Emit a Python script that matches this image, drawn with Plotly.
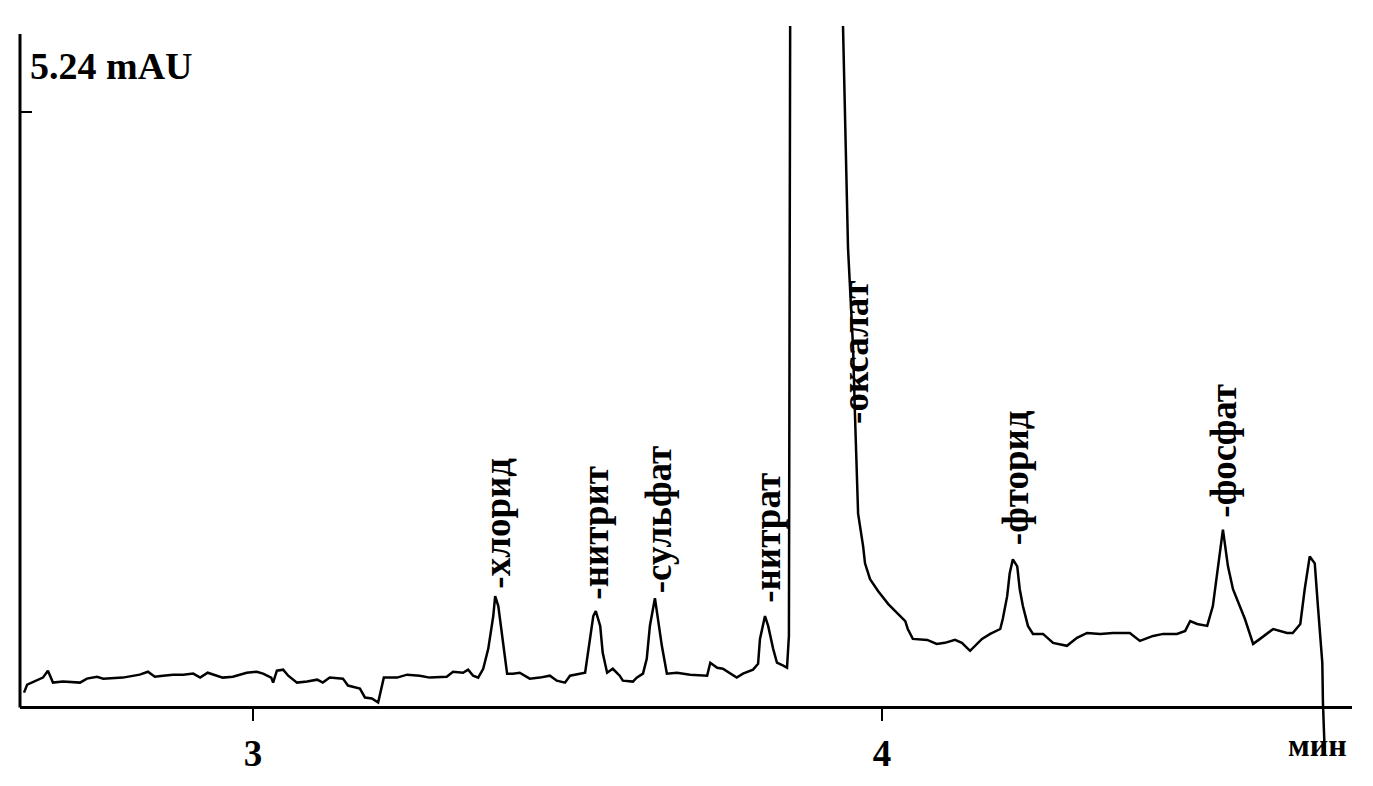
import plotly.graph_objects as go

# retention time, min
time_min = [
    2.636, 2.641, 2.666, 2.674, 2.682, 2.698, 2.725, 2.736, 2.752, 2.762,
    2.793, 2.804, 2.820, 2.833, 2.844, 2.857, 2.873, 2.889, 2.905, 2.916,
    2.928, 2.952, 2.968, 2.990, 3.006, 3.016, 3.029, 3.032, 3.038, 3.048,
    3.056, 3.070, 3.086, 3.102, 3.111, 3.122, 3.143, 3.151, 3.170, 3.178,
    3.189, 3.199, 3.205, 3.208, 3.229, 3.245, 3.265, 3.281, 3.308, 3.318,
    3.334, 3.342, 3.350, 3.358, 3.366, 3.374, 3.382, 3.385, 3.390, 3.396,
    3.404, 3.413, 3.424, 3.440, 3.456, 3.472, 3.483, 3.496, 3.504, 3.528,
    3.533, 3.541, 3.545, 3.552, 3.556, 3.563, 3.572, 3.583, 3.588, 3.604,
    3.610, 3.620, 3.626, 3.631, 3.639, 3.644, 3.650, 3.658, 3.674, 3.695,
    3.722, 3.727, 3.738, 3.747, 3.758, 3.769, 3.779, 3.795, 3.803, 3.806,
    3.814, 3.819, 3.827, 3.833, 3.843, 3.849, 3.852, 3.854, 3.895, 3.938,
    3.946, 3.954, 3.957, 3.962, 3.970, 3.973, 3.981, 3.994, 4.010, 4.024,
    4.037, 4.041, 4.049, 4.072, 4.087, 4.100, 4.116, 4.127, 4.140, 4.159,
    4.172, 4.188, 4.192, 4.199, 4.203, 4.208, 4.215, 4.219, 4.224, 4.232,
    4.240, 4.256, 4.272, 4.294, 4.310, 4.326, 4.347, 4.367, 4.394, 4.410,
    4.431, 4.447, 4.469, 4.482, 4.490, 4.501, 4.517, 4.526, 4.534, 4.542,
    4.550, 4.558, 4.577, 4.590, 4.601, 4.622, 4.644, 4.653, 4.665, 4.672,
    4.680, 4.688, 4.693, 4.700, 4.701, 4.704,
]

# detector signal, mAU (oxalate apex is off scale)
signal_mau = [
    0.131, 0.201, 0.263, 0.324, 0.219, 0.228, 0.219, 0.254, 0.271, 0.254,
    0.263, 0.271, 0.289, 0.315, 0.271, 0.280, 0.289, 0.289, 0.298, 0.263,
    0.306, 0.263, 0.271, 0.306, 0.315, 0.298, 0.263, 0.219, 0.324, 0.333,
    0.280, 0.219, 0.228, 0.245, 0.219, 0.263, 0.254, 0.193, 0.166, 0.088,
    0.079, 0.044, 0.193, 0.263, 0.263, 0.289, 0.280, 0.263, 0.271, 0.315,
    0.306, 0.333, 0.280, 0.263, 0.341, 0.516, 0.805, 0.980, 0.893, 0.630,
    0.298, 0.298, 0.306, 0.254, 0.263, 0.280, 0.236, 0.219, 0.280, 0.306,
    0.516, 0.805, 0.849, 0.718, 0.481, 0.306, 0.341, 0.280, 0.236, 0.228,
    0.263, 0.298, 0.429, 0.718, 0.963, 0.779, 0.543, 0.298, 0.306, 0.289,
    0.280, 0.394, 0.350, 0.341, 0.298, 0.263, 0.298, 0.333, 0.385, 0.604,
    0.805, 0.718, 0.516, 0.394, 0.368, 0.350, 0.630, 6.000, 60.00, 6.000,
    4.043, 3.168, 2.581, 1.706, 1.418, 1.269, 1.129, 1.024, 0.910, 0.831,
    0.761, 0.691, 0.604, 0.595, 0.560, 0.569, 0.595, 0.569, 0.499, 0.604,
    0.648, 0.691, 0.779, 0.980, 1.181, 1.304, 1.243, 1.041, 0.893, 0.718,
    0.648, 0.648, 0.569, 0.543, 0.613, 0.656, 0.648, 0.656, 0.656, 0.586,
    0.630, 0.648, 0.648, 0.674, 0.761, 0.735, 0.718, 0.893, 1.243, 1.566,
    1.243, 1.041, 0.779, 0.560, 0.604, 0.691, 0.656, 0.656, 0.735, 1.041,
    1.330, 1.269, 0.893, 0.394, 0.044, -0.420,
]

# peak labels
peak_names = ["-хлорид", "-нитрит", "-сульфат", "-нитрат", "-оксалат", "-фторид", "-фосфат"]
label_time = [3.389, 3.545, 3.645, 3.818, 3.958, 4.212, 4.543]
label_base = [1.03, 0.93, 0.99, 0.90, 2.48, 1.41, 1.65]

x_ticks = [3, 4]
x_tick_text = ["3", "4"]
scale_mark = 5.24

X_RANGE = [2.6296, 4.7472]
Y_RANGE = [-0.48, 6.0]
SERIF = "Liberation Serif"

fig = go.Figure()

fig.add_trace(
    go.Scatter(
        x=time_min,
        y=signal_mau,
        mode="lines",
        line=dict(color="black", width=2.5),
        hoverinfo="skip",
        showlegend=False,
    )
)

for name, t, yb in zip(peak_names, label_time, label_base):
    fig.add_annotation(
        x=t, y=yb, xref="x", yref="y",
        text=f"<b>{name}</b>",
        textangle=-90,
        showarrow=False,
        xanchor="center", yanchor="bottom",
        font=dict(family=SERIF, size=37, color="black"),
    )

fig.add_annotation(
    x=2.642, y=5.65, xref="x", yref="y",
    text="<b>5.24 mAU</b>", showarrow=False,
    xanchor="left", yanchor="middle",
    font=dict(family=SERIF, size=38, color="black"),
)
fig.add_annotation(
    x=4.693, y=-0.33, xref="x", yref="y",
    text="<b>мин</b>", showarrow=False,
    xanchor="center", yanchor="middle",
    font=dict(family=SERIF, size=32, color="black"),
)

# left spine stops at the baseline, like the recorder trace
fig.add_shape(
    type="line", xref="paper", yref="y",
    x0=0, x1=0, y0=0, y1=5.93,
    line=dict(color="black", width=3),
)

zero_pos = (0 - Y_RANGE[0]) / (Y_RANGE[1] - Y_RANGE[0])

fig.update_layout(
    width=1365,
    height=778,
    margin=dict(l=12, r=21, t=18, b=19),
    paper_bgcolor="white",
    plot_bgcolor="white",
    xaxis=dict(
        range=X_RANGE,
        anchor="free",
        position=zero_pos,
        showgrid=False,
        zeroline=False,
        showline=True,
        linecolor="black",
        linewidth=3,
        ticks="outside",
        ticklen=12,
        tickwidth=2,
        tickcolor="black",
        tickvals=x_ticks,
        ticktext=[f"<b>{s}</b>" for s in x_tick_text],
        tickfont=dict(family=SERIF, size=37, color="black"),
    ),
    yaxis=dict(
        range=Y_RANGE,
        showgrid=False,
        zeroline=False,
        showline=False,
        ticks="inside",
        ticklen=12,
        tickwidth=2,
        tickcolor="black",
        tickvals=[scale_mark],
        showticklabels=False,
    ),
)

fig.write_html("out.html")
